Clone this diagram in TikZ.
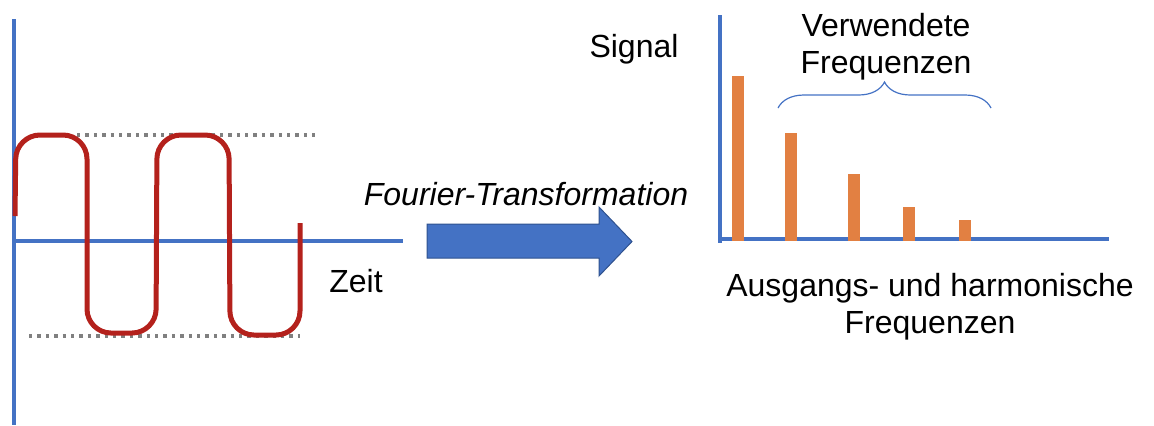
\documentclass[tikz,border=0pt]{standalone}
\usepackage{fontspec}
\setmainfont{Liberation Sans}
\usetikzlibrary{positioning}
\usetikzlibrary{decorations.pathreplacing}
\definecolor{axisblue}{RGB}{68,114,196}
\definecolor{arrowedge}{RGB}{47,82,143}
\definecolor{wavered}{RGB}{180,33,28}
\definecolor{barorange}{RGB}{226,128,66}
\definecolor{dotgray}{RGB}{128,128,128}

\begin{document}
\begin{tikzpicture}[
  x=0.5pt, y=-0.5pt,
  axisline/.style = {draw=axisblue, line width=1.65pt},
  signalwave/.style = {draw=wavered, line width=2.5pt, rounded corners=12pt},
  peak/.style = {draw=dotgray, line width=1.7pt, dash pattern=on 1.7pt off 2.5pt},
  freqbar/.style = {fill=barorange},
  txt/.style = {inner sep=0pt, font=\fontsize{16}{18.5}\selectfont}
  ]
	\useasboundingbox (0,0) rectangle (1154,425);

	% Zeitbereich
	\coordinate (t0) at (14,241);
	\draw[axisline] (14,19) -- (14,425);
	\draw[axisline] (t0) -- (403,241);
	\draw[peak] (77,135) -- (315,135);
	\draw[peak] (29,336) -- (300,336);
	\draw[signalwave] (15,216) -- (16,135) -- (87,135) -- (87,333) -- (156,333) -- (157,135)
		-- (229,135) -- (230,335) -- (300,335) -- (300,223);
	\node[txt, anchor=base] (zeit) at (356,292) {Zeit};

	% Transformation
	\filldraw[fill=axisblue, draw=arrowedge, line width=0.5pt]
		(427,224) -- (599,224) -- (599,207) -- (632,241.5) -- (599,276) -- (599,258) -- (427,258) -- cycle;
	\node[txt, font=\fontsize{16}{18.5}\selectfont\itshape, anchor=base] (fourier) at (526,205) {Fourier-Transformation};

	% Frequenzbereich
	\coordinate (f0) at (720,239);
	\draw[axisline] (720,15) -- (720,243);
	\draw[axisline] (f0) -- (1109,239);
	\foreach \x/\h in {732/76, 785/133, 848/174, 903/207, 959/220}
		\fill[freqbar] (\x,\h) rectangle (\x+12,241);
	\node[txt, anchor=base] (signal) at (634,57) {Signal};

	\draw[axisblue, line width=0.6pt, decorate, decoration={brace, amplitude=13pt, aspect=0.5}] (778,108) -- (991,108);
	\node[txt, align=center, anchor=north] (used) at (886,13) {Verwendete\\Frequenzen};
	\node[txt, align=center, anchor=north] (harm) at (930,273) {Ausgangs- und harmonische\\Frequenzen};
\end{tikzpicture}
\end{document}
